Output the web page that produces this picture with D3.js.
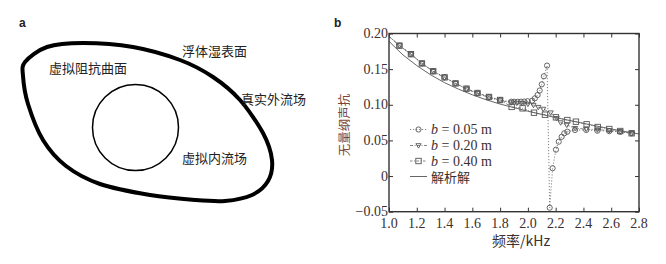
<!DOCTYPE html>
<html>
<head>
<meta charset="utf-8">
<script src="https://cdn.jsdelivr.net/npm/d3@7"></script>
<style>
  body { margin: 0; background: #fff; }
  svg { display: block; }
  .tick-label { font-family: "Liberation Serif", "DejaVu Serif", serif; font-size: 14px; fill: #3a3030; }
  .cjk { font-family: "Noto Sans CJK SC", sans-serif; }
</style>
</head>
<body>
<svg id="svg" width="666" height="264"></svg>
<script>
// ---- data ----
var xTicks = [1.0, 1.2, 1.4, 1.6, 1.8, 2.0, 2.2, 2.4, 2.6, 2.8];
var yTicks = [-0.05, 0, 0.05, 0.10, 0.15, 0.20];
var yTickLabels = ["\u22120.05", "0", "0.05", "0.10", "0.15", "0.20"];

// b = 0.05 m (circles); first point only starts the line
var b05x = [1.0, 1.075, 1.158, 1.237, 1.318, 1.40, 1.479, 1.558, 1.637, 1.72, 1.80, 1.88,
  1.90, 1.926, 1.95, 1.974, 1.998, 2.03, 2.05, 2.07, 2.085, 2.10, 2.115, 2.138,
  2.157, 2.178, 2.202, 2.222, 2.243, 2.262, 2.284, 2.339, 2.42, 2.50, 2.586, 2.665, 2.747];
var b05y = [0.196, 0.183, 0.171, 0.158, 0.147, 0.1385, 0.130, 0.1226, 0.1165, 0.111, 0.1067, 0.1043,
  0.1043, 0.1043, 0.1043, 0.1045, 0.1050, 0.1057, 0.109, 0.1137, 0.120, 0.1287, 0.140, 0.155,
  -0.0444, 0.011, 0.037, 0.0482, 0.055, 0.060, 0.0622, 0.0646, 0.0646, 0.0636, 0.063, 0.062, 0.060];

// b = 0.20 m (triangles)
var b20x = [1.0, 1.075, 1.158, 1.237, 1.318, 1.40, 1.479, 1.558, 1.637, 1.72, 1.80, 1.88,
  1.92, 1.96, 2.00, 2.04, 2.075, 2.11, 2.164, 2.207, 2.236, 2.28, 2.34, 2.42, 2.50, 2.586, 2.665, 2.747];
var b20y = [0.196, 0.183, 0.171, 0.158, 0.147, 0.138, 0.130, 0.122, 0.116, 0.110, 0.106, 0.103,
  0.1025, 0.102, 0.101, 0.0995, 0.0966, 0.094, 0.0889, 0.081, 0.075, 0.0716, 0.067, 0.066, 0.065, 0.064, 0.0625, 0.060];

// b = 0.40 m (squares)
var b40x = [1.0, 1.075, 1.158, 1.237, 1.318, 1.40, 1.479, 1.558, 1.637, 1.72, 1.80,
  1.883, 1.962, 2.044, 2.123, 2.202, 2.284, 2.346, 2.423, 2.503, 2.586, 2.665, 2.747];
var b40y = [0.196, 0.183, 0.171, 0.158, 0.147, 0.1385, 0.130, 0.1226, 0.1165, 0.111, 0.1067,
  0.097, 0.095, 0.0889, 0.0861, 0.0824, 0.0786, 0.0763, 0.0726, 0.0688, 0.066, 0.0632, 0.060];

// analytical solution
var anaX = [1.0, 1.1, 1.2, 1.3, 1.4, 1.5, 1.6, 1.7, 1.8, 1.9, 2.0, 2.1, 2.2, 2.3, 2.4, 2.5, 2.6, 2.7, 2.8];
var anaY = [0.189, 0.170, 0.155, 0.142, 0.131, 0.122, 0.114, 0.107, 0.101, 0.096, 0.091, 0.0865,
  0.082, 0.078, 0.074, 0.070, 0.066, 0.0625, 0.059];

var legendLabels = ["0.05", "0.20", "0.40"];

// panel a: outline of the floating body and the virtual surface
var bodyOutline = [[25, 62], [47, 47], [83, 43], [133, 47], [180, 60], [213, 77], [240, 100],
  [263, 133], [272, 160], [268, 181], [252, 195], [225, 201], [195, 200], [150, 195],
  [100, 184], [66, 166], [43, 140], [28, 104], [23, 76]];
var innerCircle = { cx: 135.5, cy: 127.5, r: 43 };
var panelATexts = [
  { t: "浮体湿表面", x: 182, y: 50 },
  { t: "虚拟阻抗曲面", x: 49, y: 67 },
  { t: "真实外流场", x: 241, y: 98 },
  { t: "虚拟内流场", x: 182, y: 157 }
];

var svg = d3.select("#svg");

// ---- panel a ----
svg.append("text").attr("x", 19).attr("y", 27).text("a")
  .style("font-family", "Liberation Sans, Arial, sans-serif").style("font-weight", "bold")
  .style("font-size", "12px").attr("fill", "#222");

svg.append("path")
  .attr("d", d3.line().curve(d3.curveCardinalClosed.tension(0.1))(bodyOutline))
  .attr("fill", "none").attr("stroke", "#000").attr("stroke-width", 4);

svg.append("circle").attr("cx", innerCircle.cx).attr("cy", innerCircle.cy).attr("r", innerCircle.r)
  .attr("fill", "none").attr("stroke", "#000").attr("stroke-width", 1.5);

svg.selectAll(".alabel").data(panelATexts).enter().append("text")
  .attr("class", "cjk").attr("x", d => d.x).attr("y", d => d.y)
  .attr("dominant-baseline", "central").style("font-size", "13px").attr("fill", "#222")
  .text(d => d.t);

// ---- panel b ----
svg.append("text").attr("x", 334).attr("y", 27).text("b")
  .style("font-family", "Liberation Sans, Arial, sans-serif").style("font-weight", "bold")
  .style("font-size", "12px").attr("fill", "#222");

var x = d3.scaleLinear().domain([1.0, 2.8]).range([389, 639]),
  y = d3.scaleLinear().domain([-0.05, 0.2]).range([211.7, 33.5]);

var g = svg.append("g");

// inward ticks on all four sides
g.append("g").attr("transform", "translate(0," + y(-0.05) + ")")
  .call(d3.axisBottom(x).tickValues(xTicks).tickSizeInner(-4).tickSizeOuter(0).tickFormat(""));
g.append("g").attr("transform", "translate(0," + y(0.2) + ")")
  .call(d3.axisTop(x).tickValues(xTicks).tickSizeInner(-4).tickSizeOuter(0).tickFormat(""));
g.append("g").attr("transform", "translate(" + x(1.0) + ",0)")
  .call(d3.axisLeft(y).tickValues(yTicks).tickSizeInner(-4).tickSizeOuter(0).tickFormat(""));
g.append("g").attr("transform", "translate(" + x(2.8) + ",0)")
  .call(d3.axisRight(y).tickValues(yTicks).tickSizeInner(-4).tickSizeOuter(0).tickFormat(""));
g.selectAll(".domain").remove();
g.selectAll(".tick line").attr("stroke", "#333").attr("stroke-width", 1);

g.selectAll(".xt").data(xTicks).enter().append("text")
  .attr("class", "tick-label").attr("x", d => x(d)).attr("y", 228)
  .attr("text-anchor", "middle").text(d => d.toFixed(1));
g.selectAll(".yt").data(yTicks).enter().append("text")
  .attr("class", "tick-label").attr("x", 388).attr("y", d => y(d) + 4.5)
  .attr("text-anchor", "end").text((d, i) => yTickLabels[i]);

g.append("text").attr("x", 521).attr("y", 246).attr("text-anchor", "middle")
  .style("font-family", "Noto Sans CJK SC, sans-serif").style("font-size", "14px")
  .attr("fill", "#3a3030").text("频率/kHz");
g.append("text").attr("transform", "translate(349,125) rotate(-90)").attr("text-anchor", "middle")
  .style("font-family", "Noto Sans CJK SC, sans-serif").style("font-size", "12.5px")
  .attr("fill", "#7b4636").text("无量纲声抗");

var line = d3.line().x(d => x(d[0])).y(d => y(d[1]));
function pts(xs, ys) { return xs.map((v, i) => [v, ys[i]]); }

var series = [
  { p: pts(b05x, b05y), dash: "1.2,1.8", shape: "circle" },
  { p: pts(b20x, b20y), dash: "3,1.5,1,1.5", shape: "tri" },
  { p: pts(b40x, b40y), dash: "2.5,1.5,1,1.5", shape: "square" }
];

g.append("path").attr("d", line(pts(anaX, anaY)))
  .attr("fill", "none").attr("stroke", "#555").attr("stroke-width", 0.9);

function marker(sel, shape) {
  if (shape == "circle") {
    sel.append("circle").attr("r", 2.6);
  } else if (shape == "tri") {
    sel.append("path").attr("d", "M-2.6,-1.8L2.6,-1.8L0,2.6Z");
  } else {
    sel.append("rect").attr("x", -2.7).attr("y", -2.7).attr("width", 5.4).attr("height", 5.4);
  }
  sel.selectAll("circle,path,rect").attr("fill", "none").attr("stroke", "#555").attr("stroke-width", 0.9);
}

series.forEach(function (s) {
  g.append("path").attr("d", line(s.p))
    .attr("fill", "none").attr("stroke", "#666").attr("stroke-width", 0.8)
    .attr("stroke-dasharray", s.dash);
  g.selectAll(null).data(s.p.slice(1)).enter().append("g")
    .attr("transform", d => "translate(" + x(d[0]) + "," + y(d[1]) + ")")
    .call(marker, s.shape);
});

// legend
var leg = g.append("g");
var rowsY = [129.5, 145.5, 161, 176.5];
series.forEach(function (s, i) {
  leg.append("line").attr("x1", 410).attr("x2", 427).attr("y1", rowsY[i]).attr("y2", rowsY[i])
    .attr("stroke", "#666").attr("stroke-width", 0.8).attr("stroke-dasharray", s.dash);
  leg.append("g").attr("transform", "translate(418.5," + rowsY[i] + ")").call(marker, s.shape);
  var t = leg.append("text").attr("class", "tick-label").attr("x", 431).attr("y", rowsY[i] + 4.5);
  t.append("tspan").style("font-style", "italic").text("b");
  t.append("tspan").text(" = " + legendLabels[i] + " m");
});
leg.append("line").attr("x1", 410).attr("x2", 427).attr("y1", rowsY[3]).attr("y2", rowsY[3])
  .attr("stroke", "#555").attr("stroke-width", 0.9);
leg.append("text").attr("class", "cjk").attr("x", 431).attr("y", rowsY[3])
  .attr("dominant-baseline", "central").style("font-size", "13px").attr("fill", "#3a3030").text("解析解");

// frame
g.append("rect").attr("x", x(1.0)).attr("y", y(0.2)).attr("width", x(2.8) - x(1.0))
  .attr("height", y(-0.05) - y(0.2)).attr("fill", "none").attr("stroke", "#333").attr("stroke-width", 1.4);
</script>
</body>
</html>
